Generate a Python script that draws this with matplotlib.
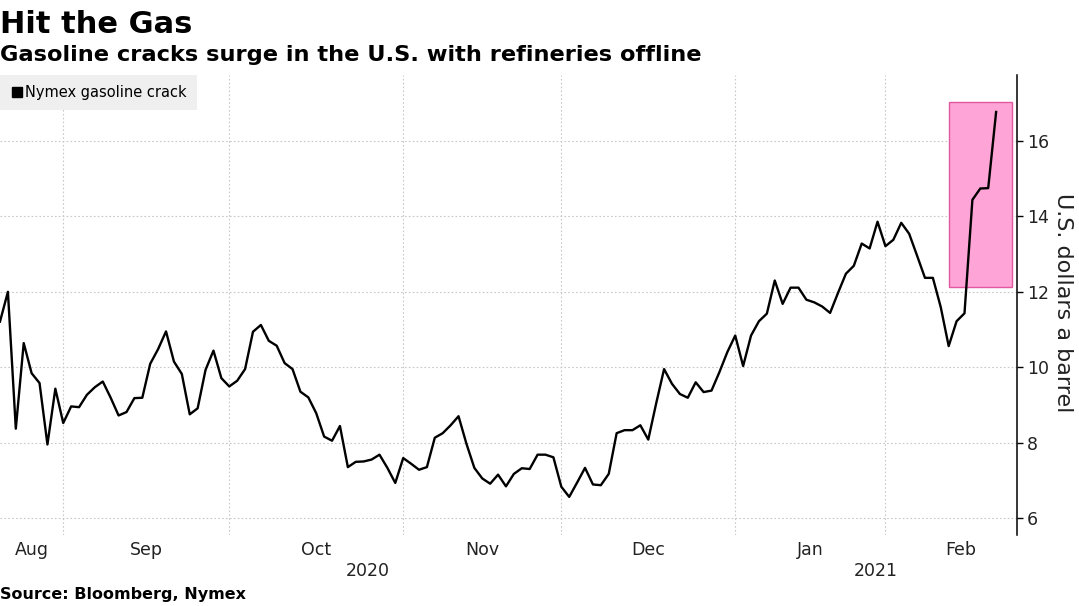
import matplotlib
matplotlib.use('Agg')
import matplotlib.pyplot as plt
import pandas as pd
from matplotlib.lines import Line2D
from matplotlib.patches import Rectangle

# Nymex gasoline crack, US dollars a barrel, one value per trading day
crack = [11.21, 12.00, 8.37, 10.64, 9.84, 9.58, 7.95, 9.43,
         8.52, 8.96, 8.94, 9.27, 9.47, 9.62, 9.19, 8.72, 8.81, 9.18, 9.19, 10.09,
         10.48, 10.95, 10.15, 9.82, 8.75, 8.91, 9.93, 10.44, 9.71,
         9.49, 9.64, 9.95, 10.94, 11.12, 10.70, 10.57, 10.11, 9.95, 9.35, 9.20,
         8.78, 8.16, 8.05, 8.44, 7.35, 7.49, 7.50, 7.55, 7.68, 7.33, 6.93,
         7.59, 7.44, 7.28, 7.35, 8.13, 8.25, 8.46, 8.70, 7.97, 7.33, 7.05, 6.91,
         7.15, 6.84, 7.17, 7.32, 7.30, 7.68, 7.68, 7.61,
         6.83, 6.56, 6.94, 7.33, 6.89, 6.87, 7.17, 8.25, 8.33, 8.33, 8.46, 8.08,
         9.04, 9.95, 9.56, 9.29, 9.19, 9.60, 9.34, 9.38, 9.87, 10.40, 10.84, 10.03,
         10.84, 11.22, 11.42, 12.30, 11.68, 12.11, 12.11, 11.79, 11.72, 11.61, 11.44,
         11.97, 12.48, 12.69, 13.28, 13.15, 13.86, 13.21, 13.38,
         13.83, 13.54, 12.96, 12.37, 12.37, 11.59, 10.56, 11.22, 11.43, 14.44,
         14.74, 14.75, 16.77]

holidays = ['2020-09-07', '2020-11-26', '2020-12-25', '2021-01-01',
            '2021-01-18', '2021-02-15']
month_names = ['Aug', 'Sep', 'Oct', 'Nov', 'Dec', 'Jan', 'Feb']
years = ['2020', '2021']

# trading-day calendar (to the end of Feb so the last month label is centred)
days = pd.bdate_range('2020-08-20', '2021-02-26')
days = days[~days.isin(pd.to_datetime(holidays))]
x = list(range(len(crack)))

# highlight box around the February spike
box_x0 = crack.index(min(crack[110:]))
box_x1 = 128.05
box_y0, box_y1 = 12.13, 17.04

xmin, xmax = 0, 128.65

fig = plt.figure(figsize=(10.79, 6.06), dpi=100)
ax = fig.add_axes([0, 0.1172, 0.9426, 0.759])

ax.add_patch(Rectangle((box_x0, box_y0), box_x1 - box_x0, box_y1 - box_y0,
                       facecolor='#ffa4d6', edgecolor='#e0589f', linewidth=1, zorder=2))
ax.plot(x, crack, color='black', linewidth=1.7, zorder=3)

ax.set_xlim(xmin, xmax)
ax.set_ylim(5.55, 17.75)

# month boundaries -> grid, month middles -> labels
months = days.to_period('M')
starts = [i for i in range(len(days)) if i == 0 or months[i] != months[i - 1]]
ends = starts[1:] + [len(days)]
centers = [(max(s, xmin) + e) / 2 for s, e in zip(starts, ends)]
ax.set_xticks(starts[1:])
ax.set_xticklabels([])
ax.set_xticks(centers, minor=True)
ax.set_xticklabels(month_names, minor=True)
ax.tick_params(axis='x', which='both', length=0)
ax.tick_params(axis='x', which='minor', pad=4, labelsize=12.5, labelcolor='#222222')

year_start = [i for i in range(len(days)) if days[i].year == 2021][0]
ax.text((xmin + year_start) / 2, -0.079, years[0], transform=ax.get_xaxis_transform(),
        ha='center', va='center', fontsize=12.5, color='#222222')
ax.text((year_start + xmax) / 2, -0.079, years[1], transform=ax.get_xaxis_transform(),
        ha='center', va='center', fontsize=12.5, color='#222222')

ax.yaxis.tick_right()
ax.set_yticks([6, 8, 10, 12, 14, 16])
ax.tick_params(axis='y', direction='out', length=4, width=1, pad=3,
               labelsize=12.5, labelcolor='#222222')

ax.grid(True, which='major', color='#c8c8c8', linestyle=(0, (1.5, 2)), linewidth=0.8)
ax.set_axisbelow(True)
for s in ['top', 'left', 'bottom']:
    ax.spines[s].set_visible(False)
ax.spines['right'].set_linewidth(1.1)

ax.legend(handles=[Line2D([0], [0], marker='s', color='black', linestyle='none', markersize=7)],
          labels=['Nymex gasoline crack'], loc='upper left', bbox_to_anchor=(0, 1),
          frameon=True, facecolor='#efefef', edgecolor='none', fancybox=False,
          framealpha=1, borderaxespad=0, handletextpad=0.1, handlelength=0.9,
          borderpad=0.7, fontsize=10.5)

fig.text(1063 / 1079, 0.5, 'U.S. dollars a barrel', rotation=270, ha='center',
         va='center', fontsize=16, color='#222222')
fig.text(0.0, 0.945, 'Hit the Gas', fontsize=22, fontweight='bold', va='baseline')
fig.text(0.0, 0.9, 'Gasoline cracks surge in the U.S. with refineries offline',
         fontsize=16.2, fontweight='bold', va='baseline')
fig.text(0.0, 0.012, 'Source: Bloomberg, Nymex', fontsize=11.5, fontweight='bold',
         va='baseline')

fig.savefig('out.png', dpi=100)
